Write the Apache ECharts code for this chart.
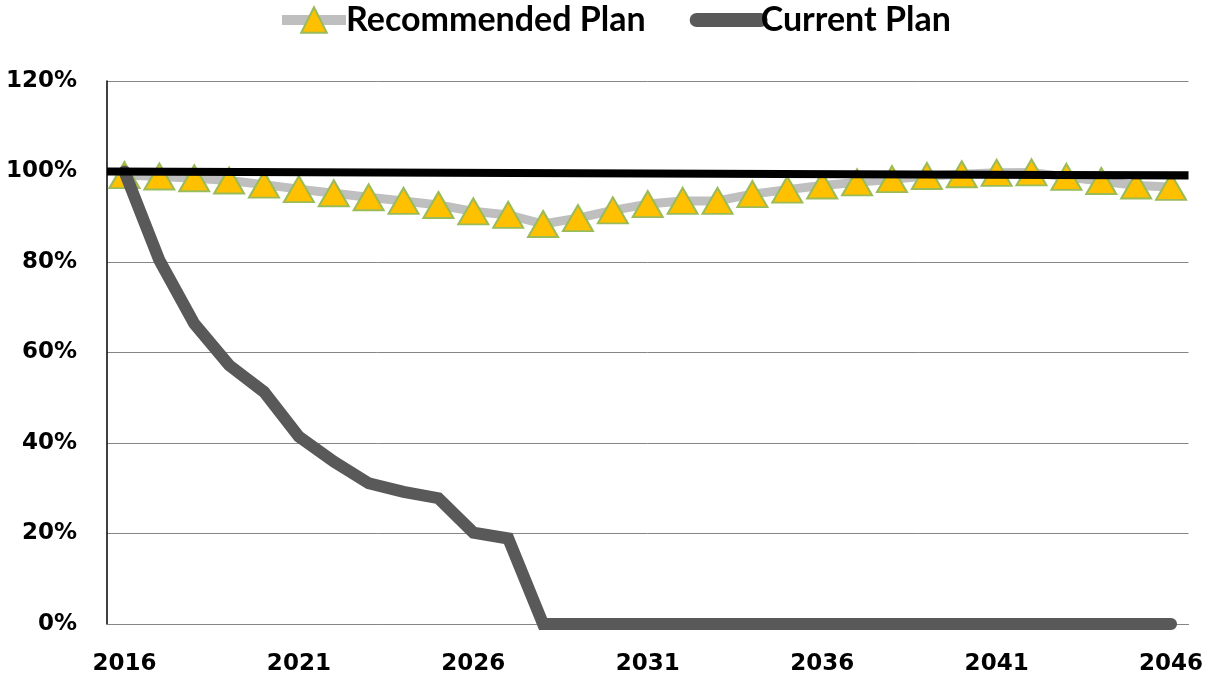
<!DOCTYPE html>
<html>
<head>
<meta charset="utf-8">
<script src="https://cdn.jsdelivr.net/npm/echarts@6/dist/echarts.min.js"></script>
<style>
html,body{margin:0;padding:0;background:#fff;}
#c{width:1206px;height:678px;}
</style>
</head>
<body>
<div id="c"></div>
<script>
const years = [];
for (let y = 2016; y <= 2046; y++) years.push(String(y));

const recommendedPlan = [99.2, 98.9, 98.5, 98.0, 97.1, 96.1, 95.2, 94.3, 93.5, 92.6,
  91.2, 90.4, 88.4, 89.7, 91.4, 92.8, 93.5, 93.5, 95.0, 96.0,
  96.9, 97.6, 98.3, 99.0, 99.4, 99.7, 99.8, 98.8, 97.9, 96.9, 96.6];

const currentPlan = [100, 80.4, 66.4, 57.2, 51.3, 41.4, 35.9, 31.1, 29.2, 27.8,
  20.2, 18.9, 0, 0, 0, 0, 0, 0, 0, 0,
  0, 0, 0, 0, 0, 0, 0, 0, 0, 0, 0];

const referenceEnds = ['start', 'end'];
const referenceLine = [100, 99.1];

const yTicks = [0, 20, 40, 60, 80, 100, 120];

const axisFont = 'DejaVu Sans';
const chart = echarts.init(document.getElementById('c'));
chart.setOption({
  animation: false,
  legend: {
    top: -2,
    left: 272,
    itemGap: 44,
    itemWidth: 64,
    itemHeight: 32,
    data: [{
      name: 'Recommended Plan',
      lineStyle: { width: 10, color: '#BFBFBF' }
    }, {
      name: 'Current Plan',
      itemStyle: { color: 'rgba(0,0,0,0)', borderWidth: 0 },
      lineStyle: { width: 14, color: '#595959', cap: 'round' }
    }],
    textStyle: { fontFamily: 'Lato', fontWeight: 'bold', fontSize: 34, color: '#000', padding: [0, 0, 0, -5] }
  },
  grid: { left: 107, right: 13, top: 81, bottom: 54 },
  xAxis: [{
    type: 'category',
    data: years,
    boundaryGap: true,
    axisLine: { show: true, lineStyle: { color: '#868686', width: 1 } },
    axisTick: { show: false },
    axisLabel: {
      interval: 4,
      fontFamily: axisFont, fontWeight: 'bold', fontSize: 23, color: '#000', margin: 29
    },
    splitLine: { show: false }
  }, {
    type: 'category',
    data: referenceEnds,
    boundaryGap: false,
    show: false
  }],
  yAxis: {
    type: 'value',
    min: 0, max: 120, interval: 20,
    axisLine: { show: true, lineStyle: { color: '#000', width: 1.5 } },
    axisTick: { show: false },
    axisLabel: {
      formatter: v => yTicks.includes(v) ? v + '%' : '',
      fontFamily: axisFont, fontWeight: 'bold', fontSize: 23, color: '#000', margin: 30
    },
    splitLine: { show: true, lineStyle: { color: '#868686', width: 1 } }
  },
  series: [{
    name: 'Recommended Plan',
    type: 'line',
    data: recommendedPlan,
    symbol: 'triangle',
    symbolSize: [30, 26],
    showAllSymbol: true,
    itemStyle: { color: '#FFC000', borderColor: '#9BBB59', borderWidth: 2 },
    lineStyle: { color: '#BFBFBF', width: 9 },
    z: 2
  }, {
    name: 'Current Plan',
    type: 'line',
    data: currentPlan,
    symbol: 'none',
    itemStyle: { color: '#595959' },
    lineStyle: { color: '#595959', width: 12, cap: 'round', join: 'miter' },
    z: 3
  }, {
    name: 'Reference',
    type: 'line',
    xAxisIndex: 1,
    data: referenceLine,
    symbol: 'none',
    lineStyle: { color: '#000', width: 8 },
    z: 4
  }]
});
</script>
</body>
</html>
